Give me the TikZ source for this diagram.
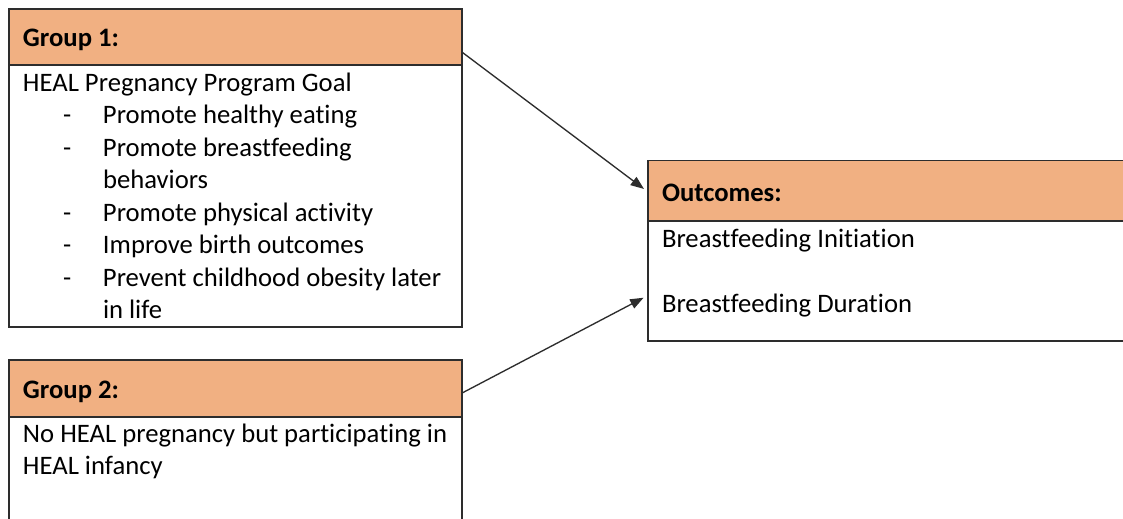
\documentclass[tikz,border=0pt]{standalone}
\usepackage{fontspec}
\setmainfont{Carlito}[Ligatures={NoCommon}]
\usetikzlibrary{arrows.meta,calc}
\definecolor{hdrfill}{RGB}{241,176,130}
\definecolor{edge}{RGB}{45,45,45}
\def\PX{0.45pt}
\tikzset{
  box/.style={draw=edge, line width=0.8pt, inner sep=0pt, outer sep=0pt, anchor=north west},
  hdr/.style={box, fill=hdrfill},
  body/.style={box, fill=white},
  txt/.style={inner sep=0pt, outer sep=0pt, anchor=base west, font=\fontsize{12}{14.65}\selectfont, align=left},
  conn/.style={draw=edge, line width=0.6pt, -{Triangle[length=6pt,width=4.5pt]}},
}
\newcommand{\dashitem}{\makebox[36pt][l]{\hspace{18pt}-}}
\begin{document}
\begin{tikzpicture}[x=0.45pt,y=-0.45pt]
\useasboundingbox (0,0) rectangle (1123,518);
\clip (0,0) rectangle (1123,518);
\fill[white] (0,0) rectangle (1123,518);
% Group 1
\node[body, minimum width=453*\PX, minimum height=262*\PX] (g1b) at (9,65) {};
\node[hdr, minimum width=453*\PX, minimum height=56*\PX] (g1h) at (9,9) {};
\node[txt, font=\fontsize{12}{14.65}\selectfont\bfseries] (g1ht) at (23,46) {Group 1:};
\node[txt] (g1t) at (23,91) {\begin{tabular}[t]{@{}l@{}}
HEAL Pregnancy Program Goal\\
\dashitem Promote healthy eating\\
\dashitem Promote breastfeeding\\
\hspace{36pt}behaviors\\
\dashitem Promote physical activity\\
\dashitem Improve birth outcomes\\
\dashitem Prevent childhood obesity later\\
\hspace{36pt}in life
\end{tabular}};
% Group 2
\node[body, minimum width=453*\PX, minimum height=140*\PX] (g2b) at (9,417) {};
\node[hdr, minimum width=453*\PX, minimum height=57*\PX] (g2h) at (9,360) {};
\node[txt, font=\fontsize{12}{14.65}\selectfont\bfseries] (g2ht) at (23,398) {Group 2:};
\node[txt] (g2t) at (23,442) {\begin{tabular}[t]{@{}l@{}}
No HEAL pregnancy but participating in\\
HEAL infancy
\end{tabular}};
% Outcomes
\node[body, minimum width=490*\PX, minimum height=120*\PX] (ob) at (648,221) {};
\node[hdr, minimum width=490*\PX, minimum height=60.5*\PX] (oh) at (648,160.5) {};
\node[txt, font=\fontsize{12}{14.65}\selectfont\bfseries] (oht) at (662,201) {Outcomes:};
\node[txt] (ot1) at (662,247) {Breastfeeding Initiation};
\node[txt] (ot2) at (662,312.5) {Breastfeeding Duration};
% Connectors
\draw[conn, shorten >=5*\PX] ($(g1h.north east)!0.77!(g1h.south east)$) -- ($(oh.north west)!0.52!(oh.south west)$);
\draw[conn, shorten >=5*\PX] ($(g2h.north east)!0.58!(g2h.south east)$) -- ($(ob.north west)!0.62!(ob.south west)$);
\end{tikzpicture}
\end{document}
